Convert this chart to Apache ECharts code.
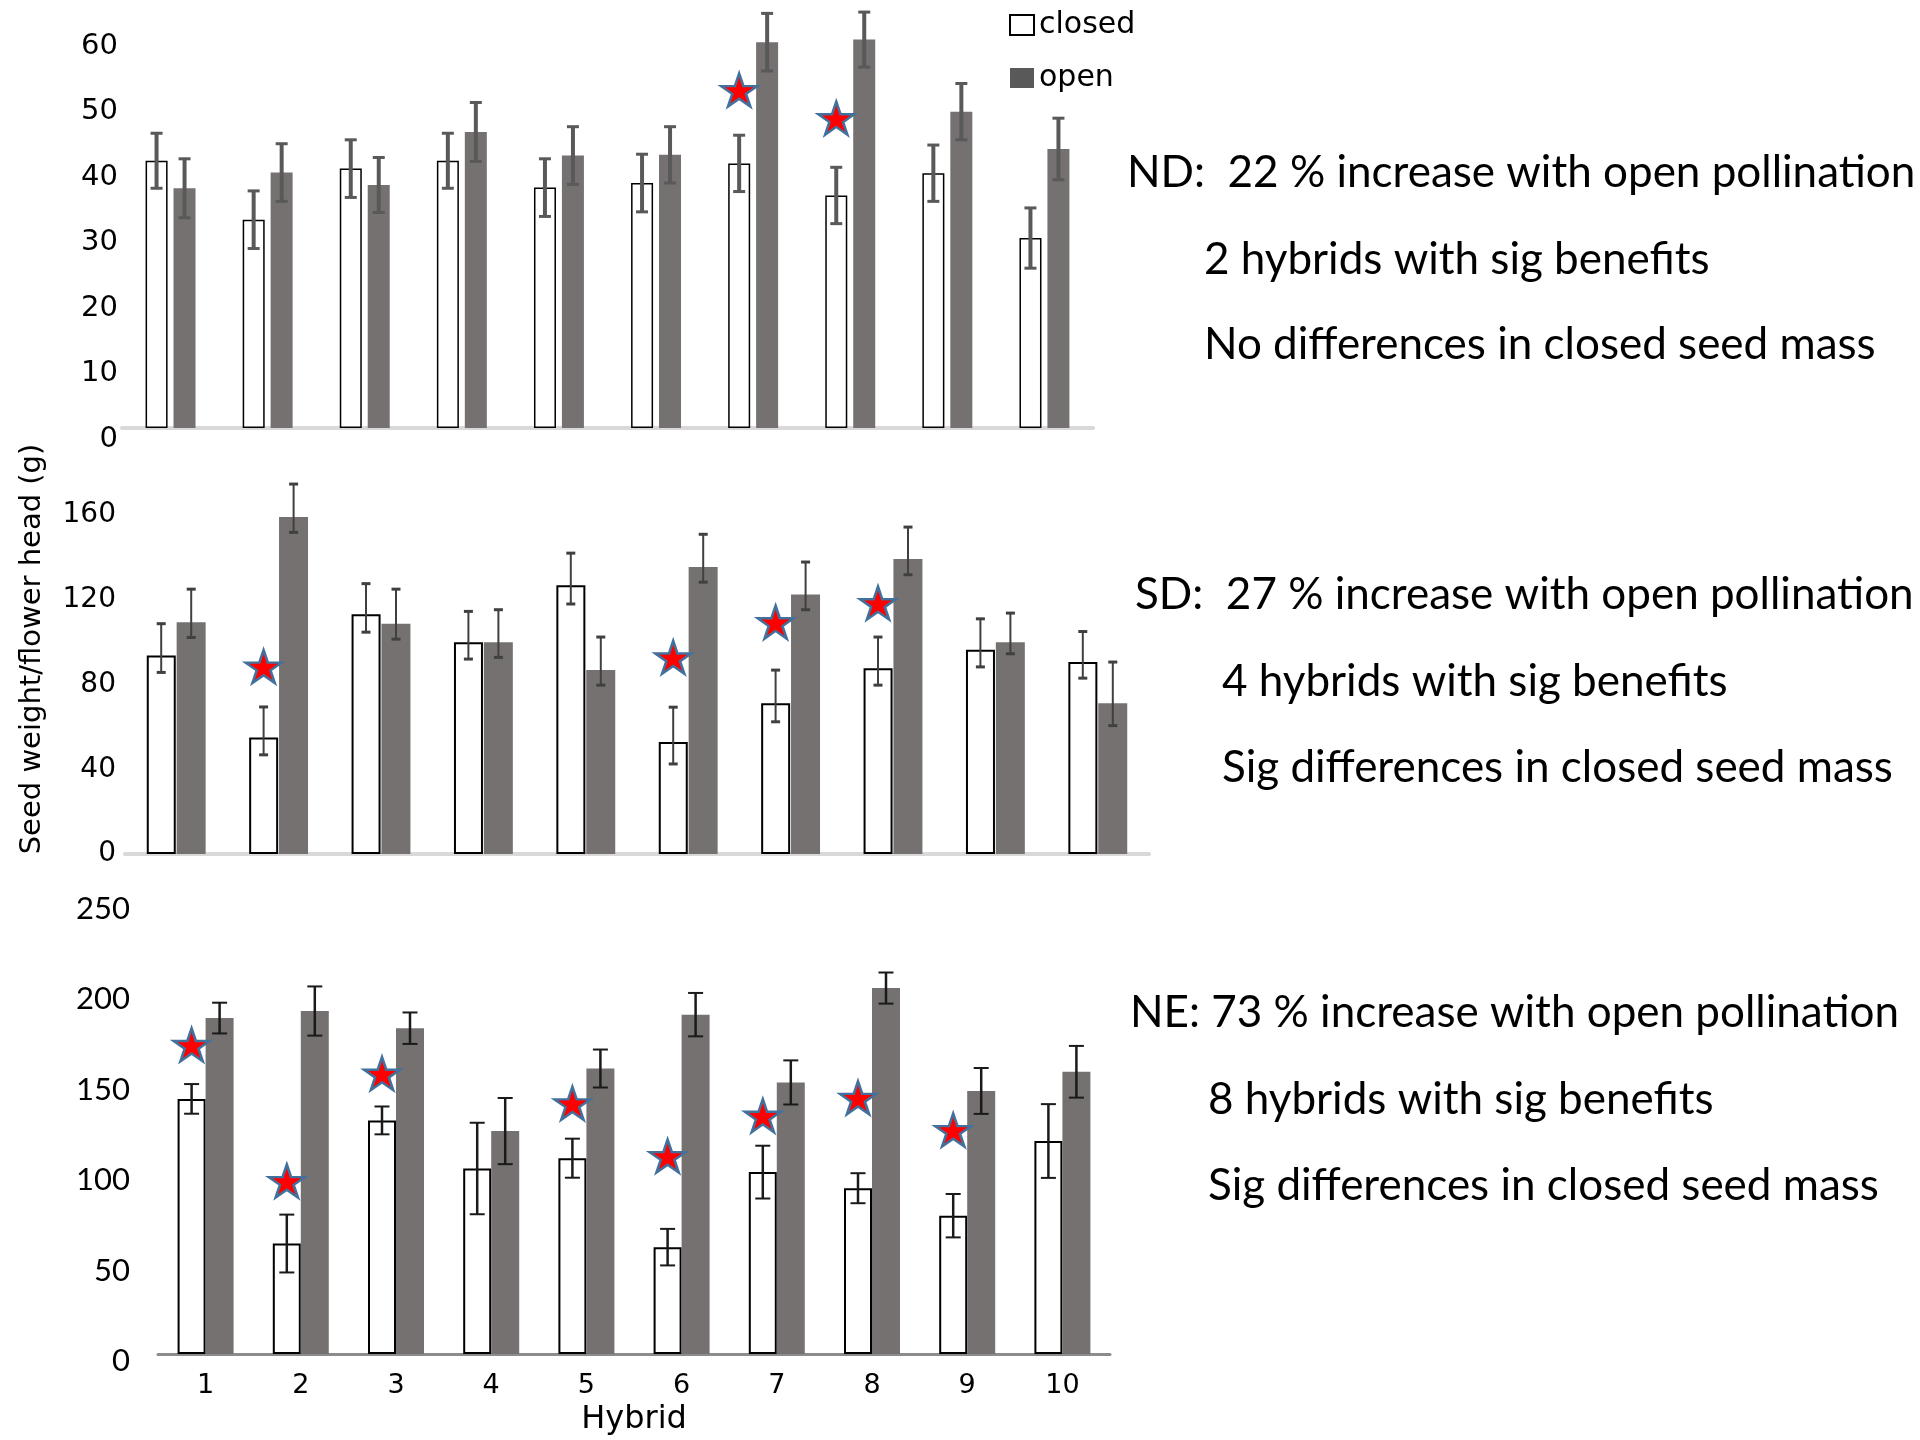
<!DOCTYPE html>
<html><head><meta charset="utf-8">
<script src="https://cdn.jsdelivr.net/npm/echarts@6/dist/echarts.min.js"></script>
<style>html,body{margin:0;padding:0;background:#fff}#chart{width:1920px;height:1440px}</style>
</head><body><div id="chart"></div>
<script>
// ---------- data ----------
const hybrids = ['1','2','3','4','5','6','7','8','9','10'];

// ND panel
const ndClosed    = [40.8, 31.8, 39.6, 40.8, 36.7, 37.4, 40.4, 35.5, 38.9, 29.0];
const ndClosedErr = [4.2, 4.4, 4.4, 4.2, 4.4, 4.4, 4.3, 4.3, 4.3, 4.6];
const ndOpen      = [36.6, 39.0, 37.1, 45.2, 41.6, 41.7, 58.9, 59.3, 48.3, 42.6];
const ndOpenErr   = [4.5, 4.4, 4.2, 4.5, 4.4, 4.3, 4.4, 4.2, 4.3, 4.7];
const ndStars     = [null, null, null, null, null, null, 51.6, 47.3, null, null];

// SD panel (error bars drawn asymmetric in the figure)
const sdClosed     = [93.7, 55.0, 113.1, 100.0, 126.8, 52.9, 71.2, 87.7, 96.4, 90.6];
const sdClosedUp   = [15.0, 14.4, 14.5, 14.5, 15.2, 16.4, 15.6, 14.7, 14.6, 14.4];
const sdClosedDown = [8.0, 8.2, 8.4, 8.0, 8.8, 10.4, 8.8, 8.0, 8.1, 7.6];
const sdOpen       = [109.4, 159.1, 108.7, 100.0, 86.9, 135.4, 122.5, 139.2, 100.0, 71.2];
const sdOpenUp     = [15.6, 15.5, 16.3, 15.3, 15.5, 15.5, 15.3, 15.1, 13.7, 19.4];
const sdOpenDown   = [7.2, 7.3, 7.3, 7.2, 7.2, 7.1, 7.2, 7.4, 5.5, 10.6];
const sdStars      = [null, 88.5, null, null, null, 92.8, 109.4, 118.4, null, null];

// NE panel
const neClosed    = [141.1, 61.1, 129.2, 102.6, 108.3, 59.1, 100.6, 91.7, 76.5, 117.8];
const neClosedErr = [8.2, 16.0, 7.7, 25.3, 10.8, 10.1, 14.6, 8.3, 12.0, 20.4];
const neOpen      = [185.8, 189.7, 180.2, 123.3, 157.9, 187.7, 150.2, 202.4, 145.5, 156.1];
const neOpenErr   = [8.5, 13.6, 8.7, 18.3, 10.5, 12.0, 12.2, 8.6, 12.7, 14.3];
const neStars     = [171.0, 95.7, 155.1, null, 138.7, 109.5, 131.8, 141.7, 123.9, null];

const ndTicks = [0, 60, 10];
const sdTicks = [0, 160, 40];
const neTicks = [0, 250, 50];

const ndText = ['ND:  22 % increase with open pollination', '2 hybrids with sig benefits', 'No differences in closed seed mass'];
const sdText = ['SD:  27 % increase with open pollination', '4 hybrids with sig benefits', 'Sig differences in closed seed mass'];
const neText = ['NE: 73 % increase with open pollination', '8 hybrids with sig benefits', 'Sig differences in closed seed mass'];

const yTitle = 'Seed weight/flower head (g)';
const xTitle = 'Hybrid';

// ---------- helpers ----------
const STAR = 'path://M0,-100 L22.45,-30.9 L95.1,-30.9 L36.3,11.8 L58.8,80.9 L0,38.2 L-58.8,80.9 L-36.3,11.8 L-95.1,-30.9 L-22.45,-30.9 Z';
const OPEN_COLOR = '#767171';

function errSeries(g, vals, up, down, offset, st) {
  return {
    type: 'custom', xAxisIndex: g, yAxisIndex: g, clip: false, z: 5, silent: true,
    data: vals.map((v, i) => [i, v, v + up[i], v - down[i]]),
    encode: {x: 0, y: 1},
    renderItem: function (params, api) {
      const i = api.value(0);
      const t = api.coord([i, api.value(2)]);
      const b = api.coord([i, api.value(3)]);
      const x = t[0] + offset, hw = st.cap / 2;
      return {type: 'group', children: [
        {type: 'line', shape: {x1: x, y1: t[1], x2: x, y2: b[1]}, style: {stroke: st.color, lineWidth: st.w}},
        {type: 'line', shape: {x1: x - hw, y1: t[1], x2: x + hw, y2: t[1]}, style: {stroke: st.color, lineWidth: st.capW}},
        {type: 'line', shape: {x1: x - hw, y1: b[1], x2: x + hw, y2: b[1]}, style: {stroke: st.color, lineWidth: st.capW}}
      ]};
    }
  };
}
function starSeries(g, vals, offset) {
  return {
    type: 'scatter', xAxisIndex: g, yAxisIndex: g, z: 10, silent: true,
    data: vals.map(v => v == null ? '-' : v),
    symbol: STAR, symbolSize: [36, 33], symbolOffset: [offset, 0],
    itemStyle: {color: '#ff0000', borderColor: '#41719c', borderWidth: 2.5, opacity: 1}
  };
}
function barPair(g, closed, open, bw, gap, closedBorder) {
  return [
    {name: 'closed', type: 'bar', xAxisIndex: g, yAxisIndex: g, data: closed, barWidth: bw, barGap: gap, z: 2,
     itemStyle: {color: '#ffffff', borderColor: '#000000', borderWidth: closedBorder}},
    {name: 'open', type: 'bar', xAxisIndex: g, yAxisIndex: g, data: open, barWidth: bw, barGap: gap, z: 2,
     itemStyle: {color: OPEN_COLOR}}
  ];
}
function yAx(g, ticks, font, size, margin, pad) {
  return {type: 'value', gridIndex: g, min: ticks[0], max: ticks[1], interval: ticks[2],
    axisLine: {show: false}, axisTick: {show: false}, splitLine: {show: false},
    axisLabel: {margin: margin, formatter: v => '{a|' + v + '}',
      rich: {a: {fontFamily: font, fontSize: size, color: '#000', padding: [pad, 0, 0, 0]}}}};
}
function textLines(lines, x1, x2, ys) {
  return lines.map((t, i) => ({type: 'text', x: i === 0 ? x1 : x2, y: ys[i],
    style: {text: t, fontFamily: 'Lato', fontSize: 44, fill: '#000', align: 'left', verticalAlign: 'middle'}}));
}

const chart = echarts.init(document.getElementById('chart'), null, {renderer: 'canvas'});
const option = {
  backgroundColor: '#ffffff',
  animation: false,
  grid: [
    {left: 122, top: 35, width: 971, height: 393},
    {left: 125, top: 515, width: 1024, height: 339},
    {left: 158, top: 902, width: 952, height: 452}
  ],
  xAxis: [
    {type: 'category', gridIndex: 0, data: hybrids, axisTick: {show: false}, axisLabel: {show: false},
     axisLine: {lineStyle: {color: '#d9d9d9', width: 4}}},
    {type: 'category', gridIndex: 1, data: hybrids, axisTick: {show: false}, axisLabel: {show: false},
     axisLine: {lineStyle: {color: '#d9d9d9', width: 4}}},
    {type: 'category', gridIndex: 2, data: hybrids, axisTick: {show: false},
     axisLabel: {fontFamily: 'DejaVu Sans', fontSize: 27, color: '#000', margin: 18},
     axisLine: {lineStyle: {color: '#8c8c8c', width: 3}},
     name: xTitle, nameLocation: 'middle', nameGap: 50,
     nameTextStyle: {fontFamily: 'DejaVu Sans', fontSize: 32, color: '#000'}}
  ],
  yAxis: [
    yAx(0, ndTicks, 'DejaVu Sans', 29, 4, 22),
    yAx(1, sdTicks, 'DejaVu Sans', 28, 9, 0),
    yAx(2, neTicks, 'Lato', 31, 28, 14)
  ],
  legend: {
    orient: 'vertical', left: 1009, top: 10, padding: 0, itemWidth: 24, itemHeight: 20, itemGap: 23, icon: 'rect',
    selectedMode: false,
    textStyle: {fontFamily: 'DejaVu Sans', fontSize: 30, color: '#000'},
    data: [
      {name: 'closed', itemStyle: {color: '#ffffff', borderColor: '#000000', borderWidth: 2}},
      {name: 'open', itemStyle: {color: '#595959'}}
    ]
  },
  graphic: [
    {type: 'text', x: 32, y: 649, rotation: Math.PI / 2,
     style: {text: yTitle, fontFamily: 'DejaVu Sans', fontSize: 29, fill: '#000', align: 'center', verticalAlign: 'middle'}}
  ].concat(textLines(ndText, 1127, 1204, [173, 260, 345]))
   .concat(textLines(sdText, 1135, 1222, [595, 682, 768]))
   .concat(textLines(neText, 1130, 1208, [1013, 1100, 1186])),
  series: [].concat(
    barPair(0, ndClosed, ndOpen, 22, '27%', 1.5),
    [errSeries(0, ndClosed, ndClosedErr, ndClosedErr, -14, {color: '#595959', w: 4, cap: 12, capW: 3}),
     errSeries(0, ndOpen, ndOpenErr, ndOpenErr, 14, {color: '#595959', w: 4, cap: 12, capW: 3}),
     starSeries(0, ndStars, -14)],
    barPair(1, sdClosed, sdOpen, 29, '3%', 2),
    [errSeries(1, sdClosed, sdClosedUp, sdClosedDown, -15, {color: '#404040', w: 2, cap: 9, capW: 3}),
     errSeries(1, sdOpen, sdOpenUp, sdOpenDown, 15, {color: '#404040', w: 2, cap: 9, capW: 3}),
     starSeries(1, sdStars, -15)],
    barPair(2, neClosed, neOpen, 28, '0%', 2),
    [errSeries(2, neClosed, neClosedErr, neClosedErr, -14, {color: '#1a1a1a', w: 2.5, cap: 15, capW: 2}),
     errSeries(2, neOpen, neOpenErr, neOpenErr, 14, {color: '#1a1a1a', w: 2.5, cap: 15, capW: 2}),
     starSeries(2, neStars, -14)]
  )
};
chart.setOption(option);
</script>
</body></html>
